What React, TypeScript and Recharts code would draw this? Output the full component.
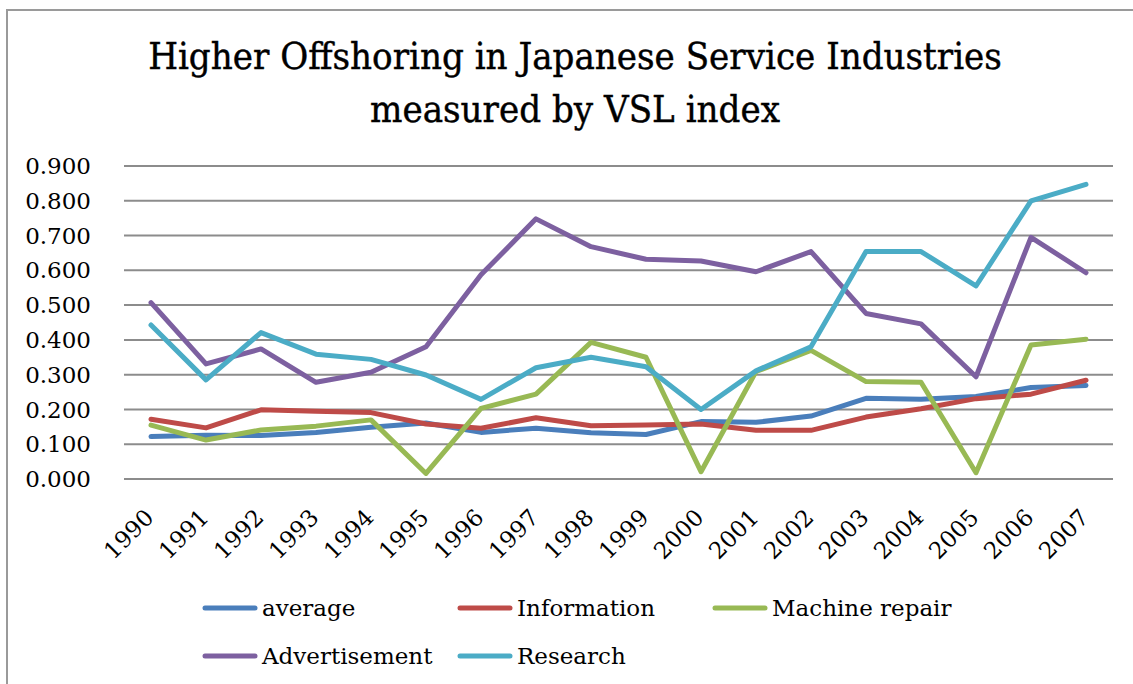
import { LineChart, Line, XAxis, YAxis, CartesianGrid } from "recharts"

const years = ["1990", "1991", "1992", "1993", "1994", "1995", "1996", "1997", "1998", "1999", "2000", "2001", "2002", "2003", "2004", "2005", "2006", "2007"]

const average = [0.122, 0.126, 0.125, 0.134, 0.149, 0.161, 0.134, 0.146, 0.133, 0.128, 0.165, 0.163, 0.181, 0.232, 0.229, 0.237, 0.263, 0.269]
const information = [0.172, 0.147, 0.199, 0.195, 0.191, 0.158, 0.146, 0.176, 0.153, 0.155, 0.158, 0.140, 0.140, 0.178, 0.202, 0.231, 0.244, 0.284]
const machineRepair = [0.155, 0.112, 0.141, 0.152, 0.170, 0.016, 0.203, 0.244, 0.393, 0.350, 0.021, 0.309, 0.370, 0.280, 0.278, 0.018, 0.385, 0.402]
const advertisement = [0.507, 0.331, 0.374, 0.278, 0.307, 0.380, 0.587, 0.748, 0.668, 0.632, 0.627, 0.596, 0.654, 0.476, 0.446, 0.294, 0.695, 0.593]
const research = [0.443, 0.285, 0.421, 0.359, 0.344, 0.299, 0.229, 0.320, 0.350, 0.323, 0.200, 0.311, 0.380, 0.654, 0.654, 0.555, 0.800, 0.847]

const yTicks = [0, 0.1, 0.2, 0.3, 0.4, 0.5, 0.6, 0.7, 0.8, 0.9]

const series = [
  { key: "average", name: "average", values: average, color: "#4A7EBB" },
  { key: "information", name: "Information", values: information, color: "#BE4B48" },
  { key: "machine", name: "Machine repair", values: machineRepair, color: "#98B954" },
  { key: "advertisement", name: "Advertisement", values: advertisement, color: "#7D60A0" },
  { key: "research", name: "Research", values: research, color: "#4BACC6" },
]

const data = years.map((year, i) => {
  const row: Record<string, string | number> = { year }
  series.forEach((s) => {
    row[s.key] = s.values[i]
  })
  return row
})

const FONT = "'DejaVu Serif', serif"

function YearTick(props: any) {
  const { x, y, payload } = props
  const ax = x + 4
  const ay = y + 40
  return (
    <text
      x={ax}
      y={ay}
      transform={`rotate(-45, ${ax}, ${ay})`}
      textAnchor="end"
      fontFamily={FONT}
      fontSize={23}
      fill="#000"
    >
      {payload.value}
    </text>
  )
}

export default function App() {
  return (
    <div style={{ position: "absolute", left: 0, top: 0, width: 1133, height: 684, overflow: "hidden", background: "#fff" }}>
      <div
        style={{
          position: "absolute",
          left: 6,
          top: 9,
          width: 1200,
          height: 800,
          borderTop: "2px solid #9a9a9a",
          borderLeft: "2px solid #9a9a9a",
        }}
      />
      <div
        style={{
          position: "absolute",
          left: 0,
          top: 30,
          width: 1150,
          textAlign: "center",
          fontFamily: "'DejaVu Serif Condensed', 'DejaVu Serif', serif",
          fontStretch: "condensed",
          fontSize: 38,
          lineHeight: "53px",
          color: "#000",
          WebkitTextStroke: "0.4px #000",
        }}
      >
        <div>Higher Offshoring in Japanese Service Industries</div>
        <div>measured by VSL index</div>
      </div>
      <div style={{ position: "absolute", left: 0, top: 0 }}>
        <LineChart width={1133} height={684} data={data} margin={{ top: 166, right: 20, bottom: 105, left: 0 }}>
          <CartesianGrid vertical={false} stroke="#8c8c8c" strokeWidth={2} />
          <XAxis
            dataKey="year"
            axisLine={false}
            tickLine={false}
            tickSize={0}
            tickMargin={0}
            height={100}
            interval={0}
            padding={{ left: 27, right: 27 }}
            tick={<YearTick />}
          />
          <YAxis
            domain={[0, 0.9]}
            ticks={yTicks}
            width={124}
            axisLine={false}
            tickLine={false}
            tickSize={0}
            tickMargin={33}
            tickFormatter={(v: number) => v.toFixed(3)}
            tick={{ fontFamily: FONT, fontSize: 23, fill: "#000" }}
          />
          {series.map((s) => (
            <Line
              key={s.key}
              type="linear"
              dataKey={s.key}
              name={s.name}
              stroke={s.color}
              strokeWidth={5}
              strokeLinecap="round"
              strokeLinejoin="round"
              dot={false}
              activeDot={false}
              isAnimationActive={false}
            />
          ))}
        </LineChart>
      </div>
      <div
        style={{
          position: "absolute",
          left: 202,
          top: 584,
          width: 780,
          display: "flex",
          flexWrap: "wrap",
          fontFamily: FONT,
          fontSize: 23,
          color: "#000",
        }}
      >
        {series.map((s) => (
          <div key={s.key} style={{ width: 255, height: 48, display: "flex", alignItems: "center" }}>
            <svg width={58} height={10} style={{ marginRight: 2 }}>
              <line x1={3} y1={5} x2={53} y2={5} stroke={s.color} strokeWidth={5} strokeLinecap="round" />
            </svg>
            <span>{s.name}</span>
          </div>
        ))}
      </div>
    </div>
  )
}
